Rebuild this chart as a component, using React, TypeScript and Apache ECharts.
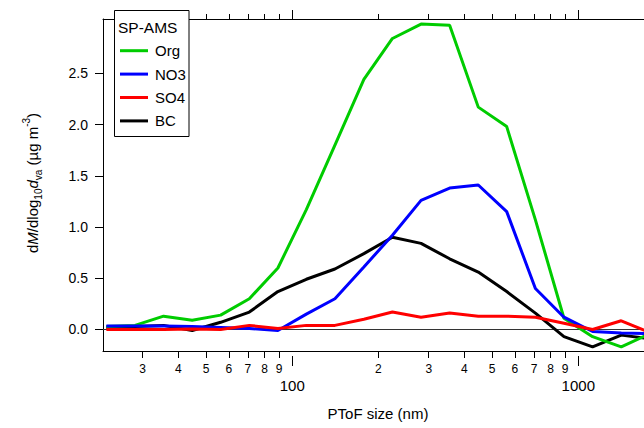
import React, { useEffect, useRef } from "react";
import * as echarts from "echarts";

// Particle size bin centres (nm, vacuum aerodynamic diameter)
const sizes = [22.4, 28.2, 35.5, 44.7, 56.2, 70.8, 89.1, 112, 141, 178, 224, 282, 355, 447, 562, 708, 891, 1122, 1413, 1778];
// dM/dlog10dva (µg m-3)
const org = [0.03, 0.04, 0.13, 0.09, 0.14, 0.30, 0.60, 1.17, 1.80, 2.44, 2.84, 2.98, 2.97, 2.17, 1.98, 1.07, 0.11, -0.07, -0.17, -0.04];
const no3 = [0.035, 0.035, 0.035, 0.03, 0.02, 0.01, -0.01, 0.15, 0.30, 0.61, 0.92, 1.26, 1.38, 1.41, 1.15, 0.40, 0.12, -0.02, -0.035, -0.04];
const so4 = [0, 0, 0, 0.005, 0, 0.04, 0.01, 0.04, 0.04, 0.10, 0.17, 0.12, 0.16, 0.13, 0.13, 0.12, 0.06, 0, 0.085, -0.03];
const bc = [0.02, 0.03, 0.04, -0.01, 0.07, 0.17, 0.37, 0.49, 0.59, 0.74, 0.90, 0.84, 0.69, 0.56, 0.37, 0.16, -0.07, -0.17, -0.055, -0.09];

const seriesNames = ["Org", "NO3", "SO4", "BC"];
const seriesColors = ["#00cc00", "#0000ff", "#ff0000", "#000000"];
const seriesValues = [org, no3, so4, bc];

const minorTicks = [30, 40, 50, 60, 70, 80, 90, 200, 300, 400, 500, 600, 700, 800, 900];
const majorTicks = [100, 1000];
const yTicks = [0, 0.5, 1.0, 1.5, 2.0, 2.5];

const X_MIN = 21.8;
const X_MAX = 1697;
const Y_MIN = -0.21;
const Y_MAX = 3.03;

const FONT = "'Liberation Sans', Arial, sans-serif";

export default function App() {
  const ref = useRef<HTMLDivElement>(null);

  useEffect(() => {
    if (!ref.current) return;
    const chart = echarts.init(ref.current, null, { renderer: "svg" });
    const lmin = Math.log10(X_MIN);
    const lmax = Math.log10(X_MAX);
    const minorLog = minorTicks.map((v) => Math.log10(v));
    const majorLog = majorTicks.map((v) => Math.log10(v));
    const lead = (v: number) => String(Math.round(Math.pow(10, v) / Math.pow(10, Math.floor(v + 1e-9))));
    const full = (v: number) => String(Math.round(Math.pow(10, v)));

    const hiddenLabel = { show: false };
    const blackLine = { color: "#000", width: 1 };

    const order = [3, 0, 1, 2]; // BC drawn first, SO4 last
    const series: any[] = order.map((idx, k) => ({
      name: seriesNames[idx],
      type: "line",
      xAxisIndex: 0,
      yAxisIndex: 0,
      data: sizes.map((s, i) => [s, seriesValues[idx][i]]),
      showSymbol: false,
      symbol: "none",
      lineStyle: { width: 3, color: seriesColors[idx] },
      itemStyle: { color: seriesColors[idx] },
      z: 2 + k,
      markLine:
        k === 0
          ? {
              silent: true,
              symbol: "none",
              label: { show: false },
              lineStyle: { color: "#333", width: 1, type: "solid" },
              data: [{ yAxis: 0 }],
              z: 1,
            }
          : undefined,
    }));

    const legendGraphics: any[] = [
      {
        type: "rect",
        shape: { x: 114.5, y: 10.5, width: 74.5, height: 126 },
        style: { fill: "#fff", stroke: "#000", lineWidth: 1 },
        z: 100,
      },
      {
        type: "text",
        x: 118,
        y: 27,
        style: { text: "SP-AMS", fontSize: 15.5, fontFamily: FONT, fill: "#000", align: "left", verticalAlign: "middle" },
        z: 101,
      },
    ];
    seriesNames.forEach((name, i) => {
      const y = 50.7 + i * 23.4;
      legendGraphics.push({
        type: "line",
        shape: { x1: 120, y1: y, x2: 148, y2: y },
        style: { stroke: seriesColors[i], lineWidth: 3 },
        z: 101,
      });
      legendGraphics.push({
        type: "text",
        x: 155,
        y: y,
        style: { text: name, fontSize: 15, fontFamily: FONT, fill: "#000", align: "left", verticalAlign: "middle" },
        z: 101,
      });
    });

    const richBase = { fontFamily: FONT, fill: "#000", color: "#000" };

    chart.setOption({
      animation: false,
      backgroundColor: "#fff",
      grid: { left: 103, top: 19, right: 0, bottom: 77, containLabel: false, outerBoundsMode: "none" },
      xAxis: [
        {
          type: "log",
          logBase: 10,
          min: X_MIN,
          max: X_MAX,
          position: "bottom",
          axisLine: { show: true, onZero: false, lineStyle: blackLine },
          axisTick: { show: false },
          axisLabel: hiddenLabel,
          splitLine: { show: false },
          minorTick: { show: false },
        },
        {
          type: "value",
          min: lmin,
          max: lmax,
          position: "bottom",
          axisLine: { show: false, onZero: false },
          axisTick: { show: true, customValues: minorLog, length: 7, lineStyle: blackLine },
          axisLabel: { show: true, customValues: minorLog, formatter: lead, fontSize: 12, fontFamily: FONT, color: "#000", margin: 12 },
          splitLine: { show: false },
        },
        {
          type: "value",
          min: lmin,
          max: lmax,
          position: "bottom",
          offset: 5,
          axisLine: { show: false, onZero: false },
          axisTick: { show: true, customValues: majorLog, length: 10, lineStyle: blackLine },
          axisLabel: { show: true, customValues: majorLog, formatter: full, fontSize: 15, fontFamily: FONT, color: "#000", margin: 22 },
          splitLine: { show: false },
        },
        {
          type: "value",
          min: lmin,
          max: lmax,
          position: "top",
          axisLine: { show: true, onZero: false, lineStyle: blackLine },
          axisTick: { show: true, customValues: minorLog, length: 5, lineStyle: blackLine },
          axisLabel: hiddenLabel,
          splitLine: { show: false },
        },
        {
          type: "value",
          min: lmin,
          max: lmax,
          position: "top",
          axisLine: { show: false, onZero: false },
          axisTick: { show: true, customValues: majorLog, length: 9, lineStyle: blackLine },
          axisLabel: hiddenLabel,
          splitLine: { show: false },
        },
      ],
      yAxis: [
        {
          type: "value",
          min: Y_MIN,
          max: Y_MAX,
          position: "left",
          axisLine: { show: true, onZero: false, lineStyle: blackLine },
          axisTick: { show: true, customValues: yTicks, length: 8, lineStyle: blackLine },
          axisLabel: {
            show: true,
            customValues: yTicks,
            formatter: (v: number) => v.toFixed(1),
            fontSize: 14,
            fontFamily: FONT,
            color: "#000",
            margin: 15,
          },
          splitLine: { show: false },
        },
      ],
      series,
      graphic: [
        ...legendGraphics,
        {
          type: "text",
          x: 378,
          y: 413,
          style: { text: "PToF size (nm)", fontSize: 15, fontFamily: FONT, fill: "#000", align: "center", verticalAlign: "middle" },
        },
        {
          type: "text",
          x: 32,
          y: 183,
          rotation: Math.PI / 2,
          style: {
            text: "d{i|M}/dlog{sub|10}{i|d}{sub|va} (µg m{sup|-3})",
            fontSize: 15,
            fontFamily: FONT,
            fill: "#000",
            align: "center",
            verticalAlign: "middle",
            lineHeight: 22,
            rich: {
              i: { ...richBase, fontSize: 15, fontStyle: "italic", lineHeight: 22 },
              sub: { ...richBase, fontSize: 10, verticalAlign: "bottom", lineHeight: 12 },
              sup: { ...richBase, fontSize: 10, verticalAlign: "top", lineHeight: 12 },
            },
          },
        },
      ],
    });
    return () => chart.dispose();
  }, []);

  return <div ref={ref} style={{ position: "fixed", left: 0, top: 0, width: 644, height: 428 }} />;
}
